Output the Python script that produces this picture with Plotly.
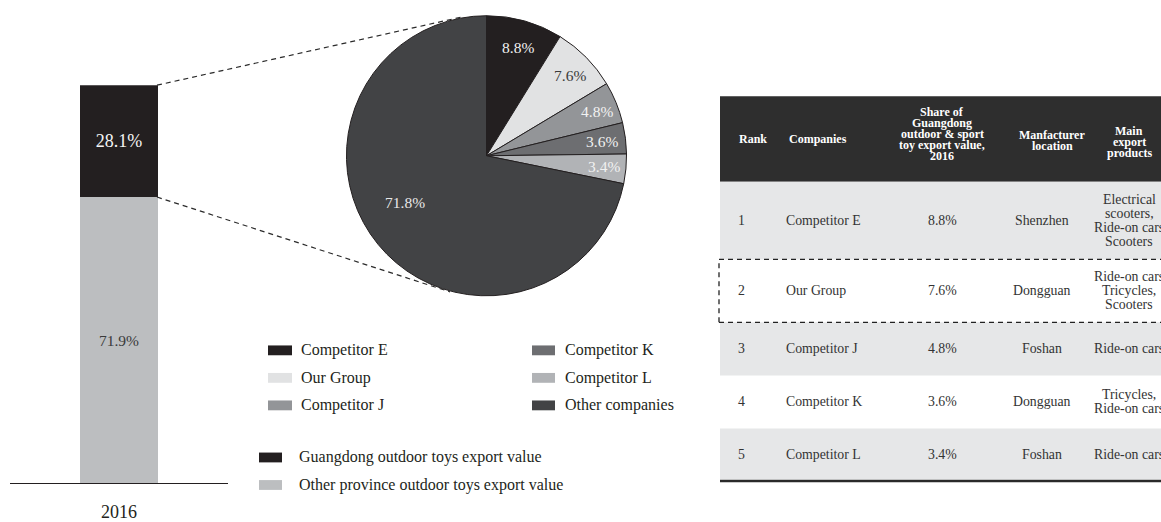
import math
import plotly.graph_objects as go

W, H = 1161, 522
FONT = "Liberation Serif, Times New Roman, serif"

# ---- data -------------------------------------------------------------
bar_year = ["2016"]
guangdong_share = [28.1]
other_province_share = [71.9]
bar_legend = ["Guangdong outdoor toys export value",
              "Other province outdoor toys export value"]

pie_labels = ["Competitor E", "Our Group", "Competitor J",
              "Competitor K", "Competitor L", "Other companies"]
pie_values = [8.8, 7.6, 4.8, 3.6, 3.4, 71.8]

table_header = [["Rank"], ["Companies"],
                ["Share of", "Guangdong", "outdoor & sport", "toy export value,", "2016"],
                ["Manfacturer", "location"],
                ["Main", "export", "products"]]
table_rank = ["1", "2", "3", "4", "5"]
table_company = ["Competitor E", "Our Group", "Competitor J", "Competitor K", "Competitor L"]
table_share = [8.8, 7.6, 4.8, 3.6, 3.4]
table_location = ["Shenzhen", "Dongguan", "Foshan", "Dongguan", "Foshan"]
table_products = [["Electrical", "scooters,", "Ride-on cars", "Scooters"],
                  ["Ride-on cars", "Tricycles,", "Scooters"],
                  ["Ride-on cars"],
                  ["Tricycles,", "Ride-on cars"],
                  ["Ride-on cars"]]

# ---- styles -----------------------------------------------------------
bar_colors = ["#231f20", "#bcbec0"]
pie_colors = ["#231f20", "#e1e2e3", "#939598", "#6d6e71", "#b1b3b6", "#424345"]
pie_text_colors = ["#f2f2f2", "#3a3a3a", "#f2f2f2", "#f2f2f2", "#f2f2f2", "#e8e8e8"]
label_radius = [0.80, 0.82, 0.84, 0.82, 0.83, 0.66]
label_turn = [0, 0, 0, 0, 0, 9.2]


def px(x):
    return x / W


def py(y):
    return 1 - y / H


fig = go.Figure()

# ---- stacked bar ------------------------------------------------------
bar_x_dom = [px(10), px(228)]
bar_y_dom = [py(491.7), py(86.7)]
fig.add_trace(go.Bar(
    x=bar_year, y=other_province_share, name=bar_legend[1],
    marker=dict(color=bar_colors[1], line=dict(width=0)),
    text=[f"{v:.1f}%" for v in other_province_share],
    textposition="inside", insidetextanchor="middle",
    textfont=dict(family=FONT, size=15.5, color="#3a3a3a"),
    hoverinfo="skip", showlegend=False))
fig.add_trace(go.Bar(
    x=bar_year, y=guangdong_share, name=bar_legend[0],
    marker=dict(color=bar_colors[0], line=dict(width=0)),
    text=[f"{v:.1f}%" for v in guangdong_share],
    textposition="inside", insidetextanchor="middle",
    textfont=dict(family=FONT, size=18, color="#f4f4f4"),
    hoverinfo="skip", showlegend=False))

# ---- pie --------------------------------------------------------------
pie_cx, pie_cy, pie_r = 486.5, 158.5, 142.5
pie_x_dom = [px(pie_cx - pie_r), px(pie_cx + pie_r)]
pie_y_dom = [py(pie_cy + pie_r), py(pie_cy - pie_r)]
fig.add_trace(go.Pie(
    labels=pie_labels, values=pie_values, sort=False,
    direction="clockwise", rotation=0,
    marker=dict(colors=pie_colors, line=dict(color="#231f20", width=1)),
    textinfo="none", hoverinfo="skip", showlegend=False,
    domain=dict(x=pie_x_dom, y=pie_y_dom)))

annotations = []
shapes = []

total = sum(pie_values)
acc = 0.0
for val, col, rf, turn in zip(pie_values, pie_text_colors, label_radius, label_turn):
    mid = (acc + val / 2) / total * 360 + turn
    acc += val
    lx = pie_cx + rf * pie_r * math.sin(math.radians(mid))
    ly = pie_cy - rf * pie_r * math.cos(math.radians(mid))
    annotations.append(dict(
        x=px(lx), y=py(ly), xref="paper", yref="paper", showarrow=False,
        text=f"{val:.1f}%", font=dict(family=FONT, size=15.5, color=col),
        xanchor="center", yanchor="middle"))

# dashed connectors from the Guangdong segment to the pie
split_y = bar_y_dom[0] + (other_province_share[0] / 100) * (bar_y_dom[1] - bar_y_dom[0])
bar_right = px(157)
for y0, (ex, ey) in [(bar_y_dom[1], (463, 17)), (split_y, (450, 297))]:
    shapes.append(dict(type="line", xref="paper", yref="paper",
                       x0=bar_right, y0=y0, x1=px(ex), y1=py(ey),
                       line=dict(color="#2a2a2a", width=1.2, dash="5px,4px")))

# ---- legends ----------------------------------------------------------
def legend_item(mx0, mx1, yc, tx, color, label, mh=10):
    shapes.append(dict(type="rect", xref="paper", yref="paper",
                       x0=px(mx0), x1=px(mx1), y0=py(yc + mh / 2), y1=py(yc - mh / 2),
                       fillcolor=color, line=dict(width=0)))
    annotations.append(dict(x=px(tx), y=py(yc), xref="paper", yref="paper",
                            showarrow=False, text=label, xanchor="left", yanchor="middle",
                            font=dict(family=FONT, size=16, color="#231f20")))


for i, (lab, col) in enumerate(zip(pie_labels, pie_colors)):
    column, row = divmod(i, 3)
    yc = 356.5 + row * 28
    if column == 0:
        legend_item(268, 292, yc, 299, col, lab)
    else:
        legend_item(532, 555, yc, 563, col, lab)

for i, (lab, col) in enumerate(zip(bar_legend, bar_colors)):
    legend_item(259, 282, 465.5 + i * 28, 297, col, lab)

# ---- table ------------------------------------------------------------
T_LEFT, T_RIGHT = 720, W + 2
HEAD_TOP, HEAD_BOT = 98, 185
row_edges = [185, 264, 328, 382, 436, 488]
head_x = [(737, "left"), (787, "left"), (942, "center"), (1052, "center"), (1129, "center")]
body_x = [(736, "left"), (784, "left"), (942, "center"), (1042, "center"), (1129, "center")]
head_cy = [141.5, 141.5, 136, 143, 144]

shapes.append(dict(type="rect", xref="paper", yref="paper", layer="below",
                   x0=px(T_LEFT), x1=px(T_RIGHT), y0=py(HEAD_BOT), y1=py(HEAD_TOP),
                   fillcolor="#2e2e2e", line=dict(width=0)))
for r in range(len(table_rank)):
    if r % 2 == 0:
        shapes.append(dict(type="rect", xref="paper", yref="paper", layer="below",
                           x0=px(T_LEFT), x1=px(T_RIGHT),
                           y0=py(row_edges[r + 1]), y1=py(row_edges[r]),
                           fillcolor="#e6e7e8", line=dict(width=0)))


def text_lines(lines, x, anchor, yc, spacing, size, color, bold=False):
    n = len(lines)
    for k, ln in enumerate(lines):
        yy = yc + (k - (n - 1) / 2) * spacing
        annotations.append(dict(
            x=px(x), y=py(yy), xref="paper", yref="paper", showarrow=False,
            text=f"<b>{ln}</b>" if bold else ln, xanchor=anchor, yanchor="middle",
            font=dict(family=FONT, size=size, color=color)))


for (hx, anchor), lines, cy in zip(head_x, table_header, head_cy):
    text_lines(lines, hx, anchor, cy, 11.2, 12, "#ffffff", bold=True)

for r in range(len(table_rank)):
    cy = (row_edges[r] + row_edges[r + 1]) / 2
    cells = [[table_rank[r]], [table_company[r]], [f"{table_share[r]:.1f}%"],
             [table_location[r]], table_products[r]]
    for (bx, anchor), lines in zip(body_x, cells):
        text_lines(lines, bx, anchor, cy, 14.2, 13.8, "#333333")

# highlighted row outline
hl_top, hl_bot = row_edges[1], row_edges[2]
dash = dict(color="#222222", width=1.3, dash="5px,4px")
shapes.append(dict(type="line", xref="paper", yref="paper",
                   x0=px(719), x1=px(T_RIGHT), y0=py(hl_top), y1=py(hl_top), line=dash))
shapes.append(dict(type="line", xref="paper", yref="paper",
                   x0=px(719), x1=px(T_RIGHT), y0=py(hl_bot), y1=py(hl_bot), line=dash))
shapes.append(dict(type="line", xref="paper", yref="paper",
                   x0=px(719), x1=px(719), y0=py(hl_bot), y1=py(hl_top), line=dash))
# bottom rule
shapes.append(dict(type="line", xref="paper", yref="paper",
                   x0=px(T_LEFT), x1=px(T_RIGHT), y0=py(489.5), y1=py(489.5),
                   line=dict(color="#2a2a2a", width=2.5)))

fig.update_layout(
    width=W, height=H, autosize=False,
    margin=dict(l=0, r=0, t=0, b=0),
    paper_bgcolor="white", plot_bgcolor="white",
    barmode="stack", bargap=0.638,
    xaxis=dict(domain=bar_x_dom, showline=True, linecolor="#231f20", linewidth=1,
               ticks="", showgrid=False, zeroline=False, fixedrange=True,
               tickfont=dict(family=FONT, size=18, color="#231f20"),
               ticklabelstandoff=12),
    yaxis=dict(domain=bar_y_dom, range=[0, 100], visible=False, fixedrange=True),
    shapes=shapes, annotations=annotations,
    showlegend=False,
)

fig.write_html("out.html")
